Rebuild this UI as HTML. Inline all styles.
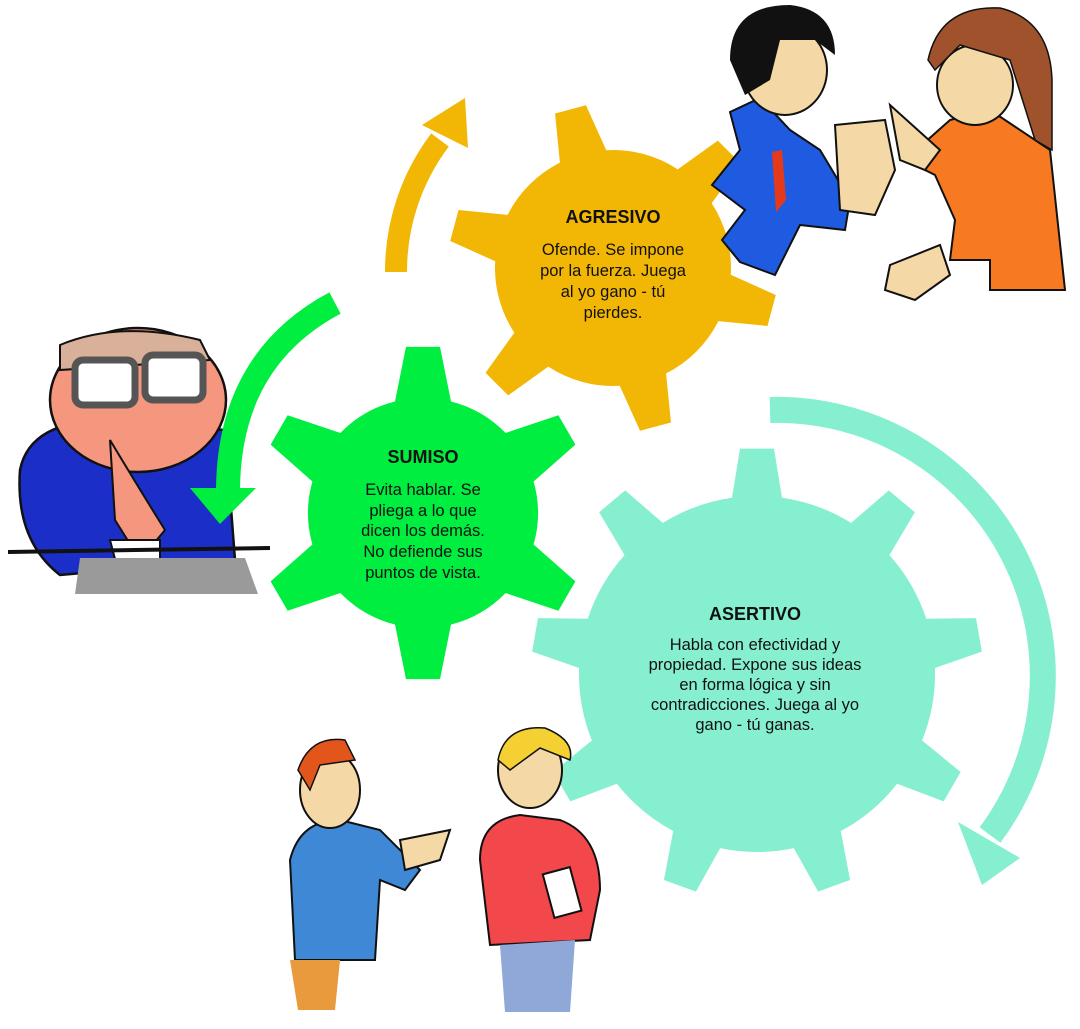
<!DOCTYPE html>
<html><head><meta charset="utf-8">
<style>
html,body{margin:0;padding:0;background:#fff;width:1080px;height:1029px;overflow:hidden}
svg{display:block}
text{font-family:"Liberation Sans",Arial,sans-serif;fill:#111}
.t{font-weight:bold;font-size:18px}
.b{font-size:16.5px}
</style></head><body>
<svg id="s" width="1080" height="1029" viewBox="0 0 1080 1029" xmlns="http://www.w3.org/2000/svg">
<!-- arrows -->
<path d="M 396 272 A 218 218 0 0 1 440 140" fill="none" stroke="#F2B705" stroke-width="22"/>
<polygon points="465,98 468,148 422,125" fill="#F2B705"/>
<path d="M 770 410 A 266 266 0 0 1 990 835" fill="none" stroke="#86EFD0" stroke-width="26"/>
<polygon points="958,822 1020,858 982,885" fill="#86EFD0"/>

<g id="gears"></g>

<!-- top right couple -->
<path d="M 730 112 L 760 98 L 790 130 L 820 150 L 850 200 L 845 230 L 800 225 L 775 275 L 740 262 L 722 240 L 745 210 L 712 185 L 740 150 Z" fill="#1E5BE0" stroke="#111" stroke-width="2"/>
<path d="M 772 152 L 782 150 L 786 200 L 776 212 Z" fill="#E53A1A"/>
<ellipse cx="785" cy="70" rx="42" ry="45" fill="#F4D9A6" stroke="#111" stroke-width="2"/>
<path d="M 730 60 Q 730 5 790 5 Q 835 10 835 55 L 815 40 L 780 40 L 770 80 L 745 95 Z" fill="#111"/>
<path d="M 835 125 L 885 120 L 895 170 L 875 215 L 840 210 Z" fill="#F4D9A6" stroke="#111" stroke-width="2"/>
<path d="M 950 120 L 990 110 L 1050 150 L 1065 290 L 990 290 L 990 260 L 950 260 L 955 220 L 935 175 L 905 160 Z" fill="#F77A22" stroke="#111" stroke-width="2"/>
<ellipse cx="975" cy="85" rx="38" ry="40" fill="#F4D9A6" stroke="#111" stroke-width="2"/>
<path d="M 928 60 Q 940 5 1000 8 Q 1050 20 1052 80 L 1052 150 L 1035 140 L 1010 60 L 960 45 L 935 70 Z" fill="#A0522D" stroke="#111" stroke-width="1.5"/>
<path d="M 890 105 L 940 150 L 925 170 L 900 160 Z" fill="#F4D9A6" stroke="#111" stroke-width="2"/>
<path d="M 890 265 L 940 245 L 950 275 L 915 300 L 885 290 Z" fill="#F4D9A6" stroke="#111" stroke-width="2"/>

<!-- left worried man -->
<path d="M 20 470 Q 30 420 110 420 L 225 430 L 235 560 L 60 575 Q 15 540 20 470 Z" fill="#1B2FC8" stroke="#111" stroke-width="2.5"/>
<ellipse cx="138" cy="400" rx="88" ry="72" fill="#F5977F" stroke="#111" stroke-width="2.5"/>
<path d="M 60 345 Q 120 320 200 340 L 210 360 L 60 370 Z" fill="#D9B19B" stroke="#111" stroke-width="2"/>
<rect x="75" y="360" width="60" height="45" rx="8" fill="#fff" stroke="#555" stroke-width="7"/>
<rect x="145" y="355" width="58" height="45" rx="8" fill="#fff" stroke="#555" stroke-width="7"/>
<path d="M 110 440 Q 140 490 165 530 L 140 560 L 115 520 Z" fill="#F5977F" stroke="#111" stroke-width="2"/>
<path d="M 110 540 L 160 540 L 160 575 L 120 578 Z" fill="#fff" stroke="#111" stroke-width="2"/>
<line x1="8" y1="552" x2="270" y2="548" stroke="#111" stroke-width="4"/>
<polygon points="80,558 245,558 258,594 75,594" fill="#9A9A9A"/>

<!-- green arrow (in front) -->
<path d="M 335 303 Q 228 360 228 492" fill="none" stroke="#00EE3F" stroke-width="24"/>
<polygon points="190,488 256,488 220,524" fill="#00EE3F"/>

<!-- bottom men -->
<path d="M 290 860 Q 300 820 340 820 L 380 830 L 420 870 L 405 890 L 380 880 L 375 960 L 295 960 Z" fill="#3F88D6" stroke="#111" stroke-width="2"/>
<ellipse cx="330" cy="790" rx="30" ry="38" fill="#F4D9A6" stroke="#111" stroke-width="2"/>
<path d="M 298 770 Q 310 735 345 740 L 355 760 L 320 765 L 310 790 Z" fill="#E2561C" stroke="#111" stroke-width="1.5"/>
<path d="M 400 840 L 450 830 L 440 860 L 405 870 Z" fill="#F4D9A6" stroke="#111" stroke-width="2"/>
<path d="M 290 960 L 340 960 L 335 1010 L 298 1010 Z" fill="#E99A3C"/>
<path d="M 480 860 Q 480 820 520 815 L 560 820 Q 600 835 600 890 L 590 940 L 490 945 Z" fill="#F2474B" stroke="#111" stroke-width="2"/>
<ellipse cx="530" cy="770" rx="32" ry="38" fill="#F4D9A6" stroke="#111" stroke-width="2"/>
<path d="M 498 760 Q 505 725 545 728 Q 575 740 570 760 L 540 748 L 510 770 Z" fill="#F5D033" stroke="#111" stroke-width="1.5"/>
<rect x="548" y="870" width="28" height="45" fill="#fff" stroke="#111" stroke-width="2" transform="rotate(-15 562 892)"/>
<path d="M 500 945 L 575 940 L 570 1012 L 505 1012 Z" fill="#8FA8D8"/>

<text class="t" x="613" y="223" text-anchor="middle">AGRESIVO</text>
<text class="b" text-anchor="middle"><tspan x="613" y="255">Ofende. Se impone</tspan><tspan x="613" y="276">por la fuerza. Juega</tspan><tspan x="613" y="297">al yo gano - tú</tspan><tspan x="613" y="318">pierdes.</tspan></text>
<text class="t" x="423" y="463" text-anchor="middle">SUMISO</text>
<text class="b" text-anchor="middle"><tspan x="423" y="495">Evita hablar. Se</tspan><tspan x="423" y="516">pliega a lo que</tspan><tspan x="423" y="536">dicen los demás.</tspan><tspan x="423" y="557">No defiende sus</tspan><tspan x="423" y="578">puntos de vista.</tspan></text>
<text class="t" x="755" y="620" text-anchor="middle">ASERTIVO</text>
<text class="b" text-anchor="middle"><tspan x="755" y="650">Habla con efectividad y</tspan><tspan x="755" y="670">propiedad. Expone sus ideas</tspan><tspan x="755" y="690">en forma lógica y sin</tspan><tspan x="755" y="710">contradicciones. Juega al yo</tspan><tspan x="755" y="730">gano - tú ganas.</tspan></text>
</svg>
<script>
function gear(cx,cy,r,R,n,a0,baseW,tipW,col){
  var d="",pts=[];
  for(var i=0;i<n;i++){
    var a=(a0+i*360/n)*Math.PI/180;
    var hb=Math.asin(baseW/2/r),ht=Math.asin(tipW/2/R);
    var A=[[r,a-hb],[R,a-ht],[R,a+ht],[r,a+hb]];
    A.forEach(function(p){pts.push([cx+p[0]*Math.cos(p[1]),cy+p[0]*Math.sin(p[1])]);});
  }
  d="M"+pts[0][0]+","+pts[0][1];
  for(var j=1;j<pts.length;j++){
    var p=pts[j];
    if(j%4==0){d+=" A"+r+","+r+" 0 0 1 "+p[0]+","+p[1];}
    else d+=" L"+p[0]+","+p[1];
  }
  d+=" A"+r+","+r+" 0 0 1 "+pts[0][0]+","+pts[0][1]+"Z";
  return '<path d="'+d+'" fill="'+col+'"/>';
}
document.getElementById("gears").innerHTML=
  gear(757,674,178,226,9,-90,50,34,"#86EFD0")+
  gear(613,268,118,165,6,-105,48,32,"#F2B705")+
  gear(423,513,115,167,6,-90,56,34,"#00EE3F");
</script>
</body></html>
